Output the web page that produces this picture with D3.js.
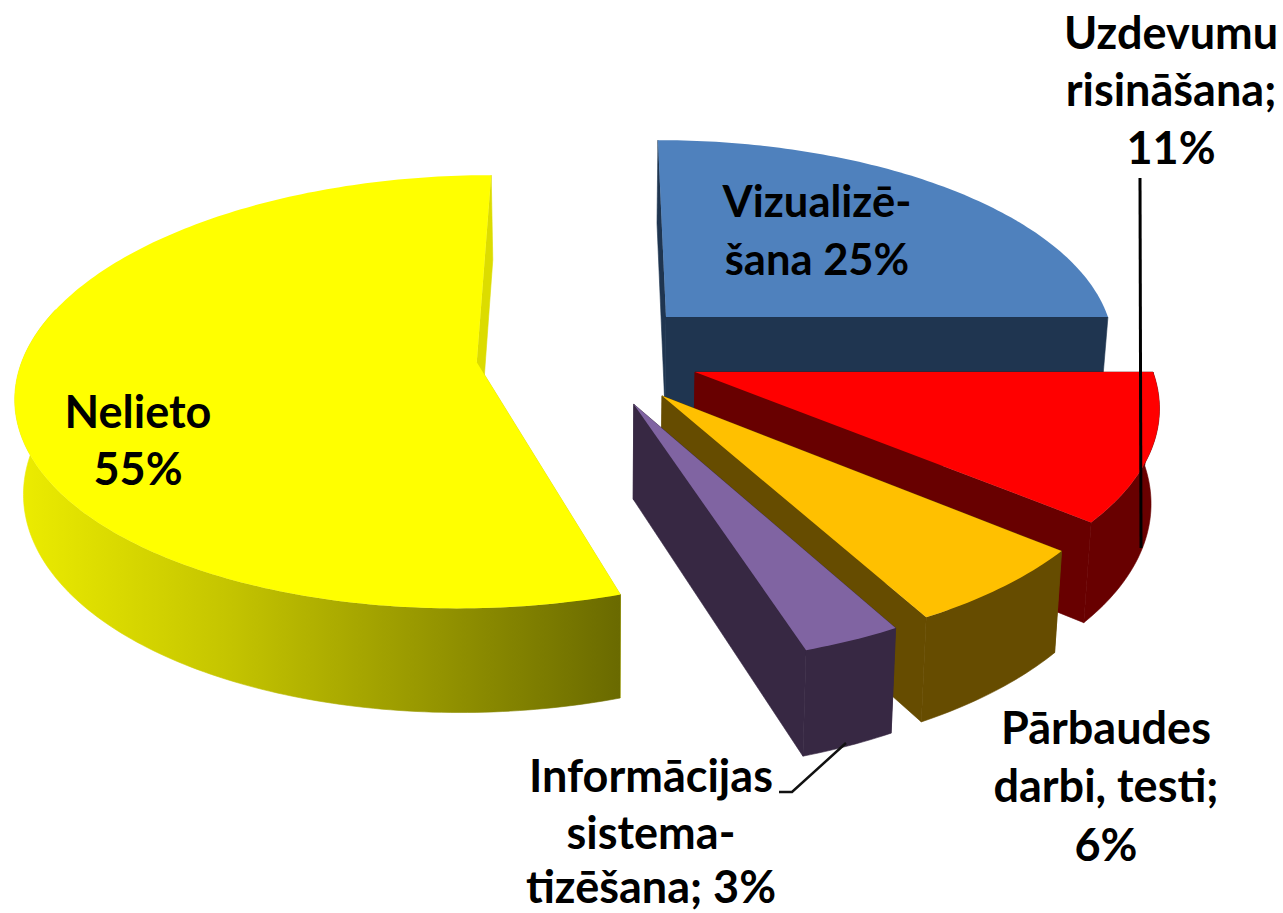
<!DOCTYPE html>
<html>
<head>
<meta charset="utf-8">
<script src="https://cdn.jsdelivr.net/npm/d3@7"></script>
<style>
  html, body { margin: 0; padding: 0; background: #fff; overflow: hidden; }
  text { font-family: Lato, "Open Sans", sans-serif; font-weight: 700; fill: #000; }
</style>
</head>
<body>
<div id="chart"></div>
<script>
// Data (Nelieto first, so the drawing order is back to front)
const categories = ["Nelieto", "Vizualizēšana", "Uzdevumu risināšana", "Pārbaudes darbi, testi", "Informācijas sistematizēšana"];
const shares = [55, 25, 11, 6, 3];

// Colours
const topColors = ["#ffff00", "#4f81bd", "#ff0000", "#ffc000", "#8064a2"];
const wallColors = ["url(#yellowWall)", "#1f3550", "#680000", "#664c00", "#372843"];
const faceColors = ["#dcdc00", "#1f3550", "#680000", "#664c00", "#372843"];

// 3D settings
const width = 1283, height = 913;
const cx = 597, cy = 372;     // where the pie centre lands on screen
const radius = 458;
const depth = 95;             // thickness of the pie
const tilt = 0.47;            // squash of the disc
const persp = 0.0003;         // perspective strength
const bottomShrink = 0.985;   // bottom face is a bit further from the camera

// how far each slice is pulled out [right, towards viewer]
const explode = [[-121, -21], [71.5, -121], [98, 0], [64, 50], [36, 67]];

const svg = d3.select("#chart").append("svg")
  .attr("width", width)
  .attr("height", height);

const grad = svg.append("defs").append("linearGradient")
  .attr("id", "yellowWall")
  .attr("gradientUnits", "userSpaceOnUse")
  .attr("x1", 20).attr("x2", 620).attr("y1", 0).attr("y2", 0);
grad.append("stop").attr("offset", "0%").attr("stop-color", "#ecec00");
grad.append("stop").attr("offset", "35%").attr("stop-color", "#c4c400");
grad.append("stop").attr("offset", "100%").attr("stop-color", "#6a6a00");

// u = right, v = towards viewer, bottom = top or bottom face
function project(u, v, bottom) {
  let s = 1 / (1 - persp * v);
  let y = tilt * v * s;
  if (bottom) {
    s *= bottomShrink;
    y = y * bottomShrink + depth * s;
  }
  return [cx + u * s, cy + y];
}

const line = d3.line();

// Start at 162deg so that Vizualizēšana starts straight up
const pie = d3.pie().sort(null)
  .startAngle(162 * Math.PI / 180)
  .endAngle(522 * Math.PI / 180);
const arcs = pie(shares);

// only the front part of the rim shows a wall
const wallFrom = 90 * Math.PI / 180, wallTo = 285 * Math.PI / 180;

arcs.forEach((d, i) => {
  const [ox, oy] = explode[i];
  const rim = (a, bottom) => project(ox + radius * Math.sin(a), oy - radius * Math.cos(a), bottom);
  const apex = bottom => project(ox, oy, bottom);

  const n = Math.max(4, Math.ceil((d.endAngle - d.startAngle) * 60));
  const angles = d3.range(n + 1).map(k => d.startAngle + (d.endAngle - d.startAngle) * k / n);

  const g = svg.append("g").attr("class", "slice").attr("data-name", categories[i]);

  // radial cut faces
  [d.startAngle, d.endAngle].forEach(a => {
    g.append("path")
      .attr("d", line([apex(false), rim(a, false), rim(a, true), apex(true)]) + "Z")
      .attr("fill", faceColors[i])
      .attr("stroke", faceColors[i])
      .attr("stroke-width", 0.6);
  });

  // outer wall
  const front = angles.filter(a => {
    const m = a % (2 * Math.PI);
    return m >= wallFrom && m <= wallTo;
  });
  if (front.length > 1) {
    const wall = front.map(a => rim(a, false)).concat(front.slice().reverse().map(a => rim(a, true)));
    g.append("path")
      .attr("d", line(wall) + "Z")
      .attr("fill", wallColors[i])
      .attr("stroke", wallColors[i])
      .attr("stroke-width", 0.6);
  }

  // top
  const top = [apex(false)].concat(angles.map(a => rim(a, false)));
  g.append("path")
    .attr("d", line(top) + "Z")
    .attr("fill", topColors[i]);
});

// Leader lines
svg.append("path")
  .attr("d", line([[1140, 178], [1141, 548]]))
  .attr("fill", "none").attr("stroke", "#000").attr("stroke-width", 3);
svg.append("path")
  .attr("d", line([[779, 792], [792, 792], [846, 743]]))
  .attr("fill", "none").attr("stroke", "#111").attr("stroke-width", 2.5);

// Labels, each line as in the original
const labels = [
  { x: 138, size: 45, lines: [["Nelieto", 428], ["55%", 485]] },
  { x: 817, size: 43.5, lines: [["Vizualizē-", 217], ["šana 25%", 275]] },
  { x: 1171, size: 45, lines: [["Uzdevumu", 49], ["risināšana;", 106], ["11%", 164]] },
  { x: 1106, size: 45, lines: [["Pārbaudes", 744], ["darbi, testi;", 802], ["6%", 861]] },
  { x: 651, size: 45, lines: [["Informācijas", 792], ["sistema-", 849], ["tizēšana; 3%", 903]] }
];

labels.forEach(l => {
  l.lines.forEach(t => {
    svg.append("text")
      .attr("x", l.x)
      .attr("y", t[1])
      .attr("text-anchor", "middle")
      .attr("font-size", l.size)
      .text(t[0]);
  });
});
</script>
</body>
</html>
